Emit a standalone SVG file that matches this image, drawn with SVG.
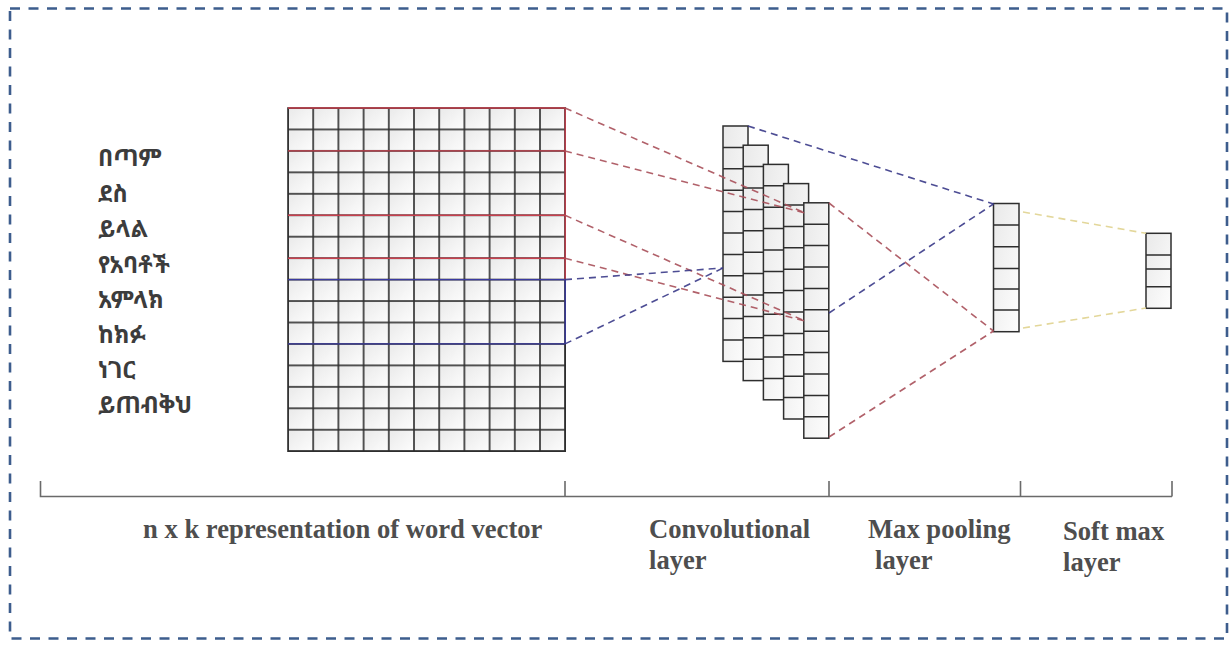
<svg xmlns="http://www.w3.org/2000/svg" width="1229" height="645" viewBox="0 0 1229 645">
<defs>
<linearGradient id="cellg" x1="0" y1="0" x2="1" y2="1">
<stop offset="0" stop-color="#e9e9e9"/>
<stop offset="1" stop-color="#fdfdfd"/>
</linearGradient>
<pattern id="gridp" x="288" y="108" width="25.2" height="21.45" patternUnits="userSpaceOnUse">
<rect x="0" y="0" width="25.2" height="21.45" fill="url(#cellg)" stroke="#2e2e2e" stroke-width="1.6"/>
</pattern>
</defs>
<style>
.cell{fill:url(#cellg);stroke:#2e2e2e;stroke-width:1.5}
.amh{font-family:"Noto Sans Ethiopic","Abyssinica SIL","Noto Serif Ethiopic","DejaVu Sans",serif;font-size:23.5px;font-weight:bold;fill:#3c3c3c}
.lbl{font-family:"Liberation Serif","Times New Roman",serif;font-size:26.6px;font-weight:bold;fill:#4e4e4e}
.axis{stroke:#6a6a6a;stroke-width:1.6;fill:none}
.red{stroke:#a8505a;stroke-width:1.6;stroke-dasharray:7 5;fill:none;opacity:0.9}
.blue{stroke:#3a3a88;stroke-width:1.6;stroke-dasharray:7 5;fill:none;opacity:0.9}
.yel{stroke:#e3d79a;stroke-width:1.6;stroke-dasharray:7 5;fill:none}
.hr{stroke:#c8404e;stroke-width:1.4}
.hb{stroke:#3a3aa0;stroke-width:1.4}
</style>
<rect id="border" x="10" y="8.5" width="1217" height="630" fill="none" stroke="#3d5d8d" stroke-width="2.6" stroke-dasharray="10 8.5"/>
<g id="words">
<text class="amh" x="98" y="166">በጣም</text>
<text class="amh" x="98" y="202">ደስ</text>
<text class="amh" x="98" y="237">ይላል</text>
<text class="amh" x="98" y="273">የአባቶች</text>
<text class="amh" x="98" y="308">አምላክ</text>
<text class="amh" x="98" y="343">ከክፉ</text>
<text class="amh" x="98" y="378">ነገር</text>
<text class="amh" x="98" y="413">ይጠብቅህ</text>
</g>
<g id="word-matrix">
<rect x="288" y="108" width="277.2" height="343.2" fill="url(#gridp)" stroke="#2e2e2e" stroke-width="1.6"/>
<line class="hr" x1="288" y1="108" x2="565.2" y2="108"/>
<line class="hr" x1="288" y1="150.9" x2="565.2" y2="150.9"/>
<line class="hr" x1="288" y1="215.3" x2="565.2" y2="215.3"/>
<line class="hr" x1="288" y1="258.2" x2="565.2" y2="258.2"/>
<line class="hb" x1="288" y1="279.6" x2="565.2" y2="279.6"/>
<line class="hb" x1="288" y1="343.9" x2="565.2" y2="343.9"/>
<line class="hr" x1="565.2" y1="108" x2="565.2" y2="279.6"/>
<line class="hb" x1="565.2" y1="279.6" x2="565.2" y2="343.9"/>
</g>
<g id="conv-layer">
<g id="fmap1"><rect class="cell" x="723" y="126" width="25" height="235.4"/><path d="M723 147.4h25M723 168.8h25M723 190.2h25M723 211.6h25M723 233h25M723 254.4h25M723 275.8h25M723 297.2h25M723 318.6h25M723 340h25" stroke="#2e2e2e" stroke-width="1.5"/></g>
<g id="fmap2" transform="translate(20.2,19.2)"><rect class="cell" x="723" y="126" width="25" height="235.4"/><path d="M723 147.4h25M723 168.8h25M723 190.2h25M723 211.6h25M723 233h25M723 254.4h25M723 275.8h25M723 297.2h25M723 318.6h25M723 340h25" stroke="#2e2e2e" stroke-width="1.5"/></g>
<g id="fmap3" transform="translate(40.4,38.4)"><rect class="cell" x="723" y="126" width="25" height="235.4"/><path d="M723 147.4h25M723 168.8h25M723 190.2h25M723 211.6h25M723 233h25M723 254.4h25M723 275.8h25M723 297.2h25M723 318.6h25M723 340h25" stroke="#2e2e2e" stroke-width="1.5"/></g>
<g id="fmap4" transform="translate(60.6,57.6)"><rect class="cell" x="723" y="126" width="25" height="235.4"/><path d="M723 147.4h25M723 168.8h25M723 190.2h25M723 211.6h25M723 233h25M723 254.4h25M723 275.8h25M723 297.2h25M723 318.6h25M723 340h25" stroke="#2e2e2e" stroke-width="1.5"/></g>
<g id="fmap5" transform="translate(80.8,76.8)"><rect class="cell" x="723" y="126" width="25" height="235.4"/><path d="M723 147.4h25M723 168.8h25M723 190.2h25M723 211.6h25M723 233h25M723 254.4h25M723 275.8h25M723 297.2h25M723 318.6h25M723 340h25" stroke="#2e2e2e" stroke-width="1.5"/></g>
</g>
<g id="max-pooling">
<rect class="cell" x="993.5" y="203.5" width="25.5" height="128.2"/>
<path d="M993.5 225h25.5M993.5 246.7h25.5M993.5 268.5h25.5M993.5 289h25.5M993.5 310h25.5" stroke="#2e2e2e" stroke-width="1.5"/>
</g>
<g id="softmax">
<rect class="cell" x="1146" y="233.3" width="25" height="75"/>
<path d="M1146 255h25M1146 269h25M1146 286.7h25" stroke="#2e2e2e" stroke-width="1.5"/>
</g>
<g id="connectors">
<line class="red" x1="565" y1="108" x2="805" y2="213"/>
<line class="red" x1="565" y1="151" x2="805" y2="213"/>
<line class="red" x1="565" y1="215.3" x2="805" y2="321"/>
<line class="red" x1="565" y1="258.2" x2="805" y2="321"/>
<line class="blue" x1="565" y1="279.6" x2="723" y2="268"/>
<line class="blue" x1="565" y1="343.9" x2="723" y2="268"/>
<line class="blue" x1="748" y1="126" x2="993.5" y2="204"/>
<line class="blue" x1="829" y1="313" x2="993.5" y2="204"/>
<line class="red" x1="829" y1="203" x2="993.5" y2="331"/>
<line class="red" x1="829" y1="437" x2="993.5" y2="331"/>
<line class="yel" x1="1023" y1="212" x2="1146" y2="233.3"/>
<line class="yel" x1="1023" y1="328" x2="1146" y2="308"/>
</g>
<g id="axis">
<path class="axis" d="M40.5 481V496.5H1172M565 481V496.5M829 481V496.5M1020.5 481V496.5M1172 481V496.5"/>
</g>
<g id="labels">
<text class="lbl" x="143" y="538">n x k representation of word vector</text>
<text class="lbl" x="649" y="538">Convolutional</text>
<text class="lbl" x="649" y="569">layer</text>
<text class="lbl" x="868" y="538">Max pooling</text>
<text class="lbl" x="875" y="569">layer</text>
<text class="lbl" x="1063" y="540">Soft max</text>
<text class="lbl" x="1063" y="571">layer</text>
</g>
</svg>
